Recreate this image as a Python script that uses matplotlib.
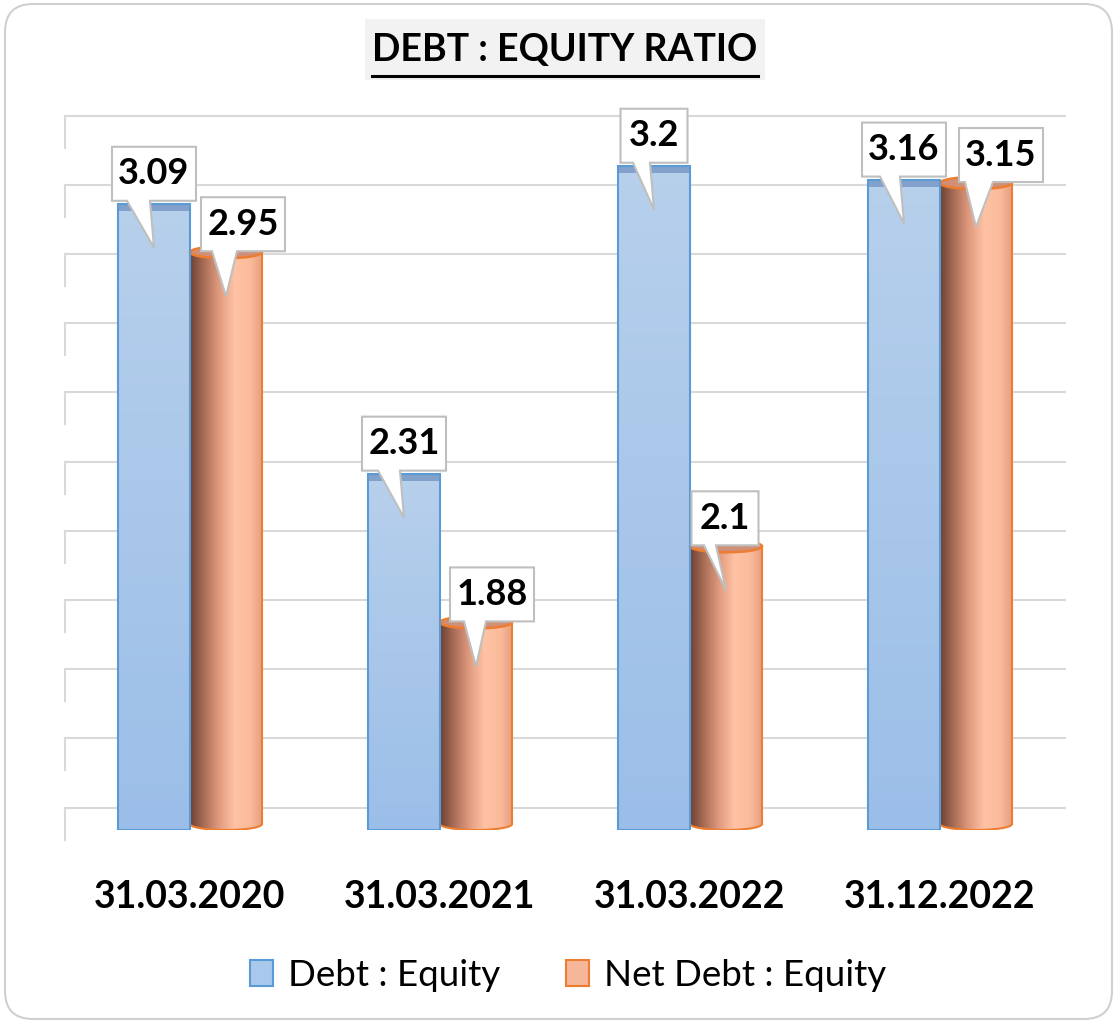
import numpy as np
import matplotlib
matplotlib.use("Agg")
import matplotlib.pyplot as plt
from matplotlib.patches import Rectangle, Ellipse, Polygon, FancyBboxPatch, PathPatch, Patch
from matplotlib.lines import Line2D
from matplotlib.path import Path
from matplotlib.colors import LinearSegmentedColormap

plt.rcParams['font.family'] = ['Lato', 'DejaVu Sans']

# data
categories = ['31.03.2020', '31.03.2021', '31.03.2022', '31.12.2022']
debt_equity = [3.09, 2.31, 3.2, 3.16]
net_debt_equity = [2.95, 1.88, 2.1, 3.15]
series_names = ['Debt : Equity', 'Net Debt : Equity']
grid_ticks = np.arange(1.4, 3.41, 0.2)

# style / layout
W, H, DPI = 1117, 1023, 100
BAR_W = 0.288
Y_MIN, Y_MAX = 1.28, 3.39
WALL_SHIFT = 0.055      # back wall gridlines sit a little above the bar fronts
BLUE_EDGE = '#5B9BD5'
ORANGE_EDGE = '#ED7D31'
GRID = '#D9D9D9'

blue_cmap = LinearSegmentedColormap.from_list('blue', ['#9BBEE8', '#B7D0EC'])
orange_cmap = LinearSegmentedColormap.from_list(
    'orange', [(0, '#6B4233'), (0.18, '#A56A54'), (0.4, '#E09A7E'),
               (0.62, '#FFC2A4'), (0.84, '#FBBB9B'), (1, '#E6A080')])

# callout boxes: horizontal shift of box and pointer base, in pixels from bar centre
blue_box_shift = [0, 0, 0, 0]
blue_ptr = [(-27, -4), (-26, -4), (-21, -4), (-24, -4)]
orange_box_shift = [17, 16, -1, 25]
orange_ptr = [(-14, 11), (-12, 10), (-22, -10), (-11, 17)]


def px(ax):
    # data units per pixel in x and y
    sx = 4.0 / ax.bbox.width
    sy = (Y_MAX - Y_MIN) / ax.bbox.height
    return sx, sy


def callout(ax, xc, yv, text, shift, ptr, gap):
    sx, sy = px(ax)
    w = 16 + 17 * len(text)
    h = 54
    bx = xc + shift * sx
    b0 = yv + gap * sy
    b1 = b0 + h * sy
    l = bx - w / 2 * sx
    r = bx + w / 2 * sx
    apex = (xc, yv - 44 * sy)
    verts = [(l, b1), (r, b1), (r, b0), (xc + ptr[1] * sx, b0), apex,
             (xc + ptr[0] * sx, b0), (l, b0)]
    ax.add_patch(Polygon(verts, closed=True, facecolor='white', edgecolor='#BFBFBF',
                         lw=1.5, zorder=10, clip_on=False))
    ax.text(bx, (b0 + b1) / 2, text, ha='center', va='center', fontsize=26,
            fontweight='bold', zorder=11)


fig = plt.figure(figsize=(W / DPI, H / DPI), dpi=DPI)
fig.patch.set_facecolor('white')

# rounded chart border
fig.add_artist(FancyBboxPatch((0.05, 0.04), 11.07, 10.15, boxstyle='round,pad=0,rounding_size=0.28',
                              transform=fig.dpi_scale_trans, facecolor='white',
                              edgecolor='#D0D0D0', lw=1.5, zorder=-10))

# title
fig.add_artist(Rectangle((3.65, 9.43), 4.0, 0.61, transform=fig.dpi_scale_trans,
                         facecolor='#F2F2F2', edgecolor='none', zorder=-5))
title = fig.text(565 / W, 1 - 50 / H, 'DEBT : EQUITY RATIO', ha='center', va='center',
                 fontsize=27, fontweight='bold')

ax = fig.add_axes([65 / W, 1 - 830 / H, 1000 / W, 730 / H])
ax.set_xlim(-0.5, 3.5)
ax.set_ylim(Y_MIN, Y_MAX)
ax.patch.set_alpha(0)
for s in ax.spines.values():
    s.set_visible(False)
ax.set_yticks([])

sx, sy = px(ax)

# gridlines on back wall plus the short side wall segments
for t in grid_ticks:
    g = t - WALL_SHIFT
    ax.plot([-0.5, 3.5], [g, g], color=GRID, lw=1.5, zorder=0, clip_on=False)
    ax.plot([-0.5, -0.5], [g, g - 32 * sy], color=GRID, lw=1.5, zorder=0, clip_on=False)

x = np.arange(len(categories))

# blue prism bars
blue_bars = ax.bar(x - BAR_W / 2, np.array(debt_equity) - Y_MIN, BAR_W, bottom=Y_MIN,
                   facecolor='none', edgecolor=BLUE_EDGE, lw=1.5, zorder=4)
grad_v = np.linspace(0, 1, 256).reshape(-1, 1)
for rect in blue_bars:
    x0, y0 = rect.get_x(), rect.get_y()
    w, h = rect.get_width(), rect.get_height()
    im = ax.imshow(grad_v, cmap=blue_cmap, origin='lower', aspect='auto',
                   extent=[x0, x0 + w, y0, y0 + h], zorder=3)
    im.set_clip_path(rect)
    ax.add_patch(Rectangle((x0, y0 + h - 7 * sy), w, 7 * sy, facecolor='#82A1CB',
                           edgecolor='none', zorder=3.5))

# orange cylinders
orange_bars = ax.bar(x + BAR_W / 2, np.array(net_debt_equity) - Y_MIN, BAR_W, bottom=Y_MIN,
                     facecolor='none', edgecolor='none', zorder=2)
grad_h = np.linspace(0, 1, 256).reshape(1, -1)
ry = 6 * sy
for rect in orange_bars:
    x0, y0 = rect.get_x(), rect.get_y()
    w, h = rect.get_width(), rect.get_height()
    xm = x0 + w / 2
    top = y0 + h
    yb = y0 + ry
    th = np.linspace(np.pi, 2 * np.pi, 40)
    pts = [(xm + w / 2 * np.cos(a), yb + ry * np.sin(a)) for a in th]
    pts += [(x0 + w, top), (x0, top), (x0, yb)]
    body = PathPatch(Path(pts, closed=True), facecolor='none', edgecolor='none',
                     transform=ax.transData)
    ax.add_patch(body)
    im = ax.imshow(grad_h, cmap=orange_cmap, aspect='auto',
                   extent=[x0, x0 + w, y0, top], zorder=3)
    im.set_clip_path(body)
    bot = [(xm + w / 2 * np.cos(a), yb + ry * np.sin(a)) for a in th]
    ax.plot([p[0] for p in bot], [p[1] for p in bot], color=ORANGE_EDGE, lw=1.5, zorder=3.5)
    ax.plot([x0 + w, x0 + w], [yb, top], color=ORANGE_EDGE, lw=1.5, zorder=3.5)
    ax.add_patch(Ellipse((xm, top), w, 2 * ry, facecolor='#CF9077',
                         edgecolor=ORANGE_EDGE, lw=1.8, zorder=3.6))

# value callouts
for i, v in enumerate(debt_equity):
    callout(ax, i - BAR_W / 2, v, f'{v:g}', blue_box_shift[i], blue_ptr[i], 3)
for i, v in enumerate(net_debt_equity):
    callout(ax, i + BAR_W / 2, v, f'{v:g}', orange_box_shift[i], orange_ptr[i], 1)

ax.set_xticks(x)
ax.set_xticklabels(categories, fontsize=27, fontweight='bold')
ax.tick_params(axis='x', length=0, pad=36)

handles = [Patch(facecolor='#A9C8EC', edgecolor=BLUE_EDGE, lw=1.5),
           Patch(facecolor='#F6B69A', edgecolor=ORANGE_EDGE, lw=1.5)]
fig.legend(handles, series_names, loc='center', bbox_to_anchor=(568 / W, 1 - 975 / H),
           ncol=2, frameon=False, fontsize=26.5, handlelength=0.62, handleheight=0.7,
           handletextpad=0.4, columnspacing=1.8)

# underline of the title
fig.canvas.draw()
bb = title.get_window_extent()
fig.add_artist(Line2D([bb.x0 / W, bb.x1 / W], [1 - 76 / H, 1 - 76 / H],
                      transform=fig.transFigure, color='black', lw=2.2))

fig.savefig('out.png', dpi=DPI)
